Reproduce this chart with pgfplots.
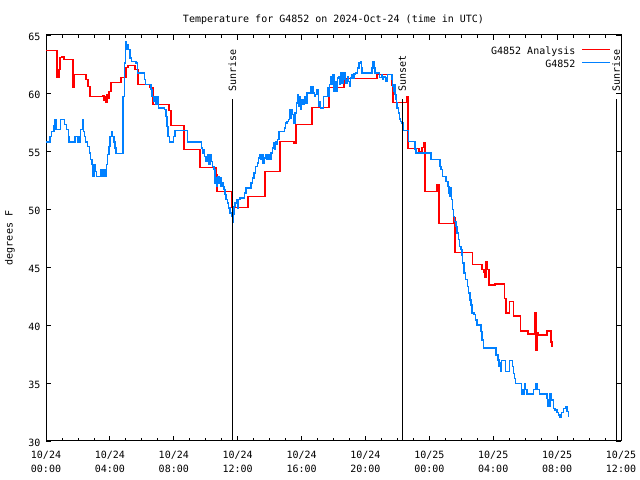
\documentclass[border=0pt]{standalone}
\usepackage{fontspec}
\setmainfont{DejaVu Sans Mono}
\usepackage{pgfplots}
\pgfplotsset{compat=1.18}
\definecolor{gred}{RGB}{255,0,0}
\definecolor{gblue}{RGB}{0,128,255}
\begin{document}
\fontsize{10bp}{12bp}\selectfont
\begin{tikzpicture}[x=1bp,y=1bp]
\useasboundingbox (0,0) rectangle (640,480);
\begin{axis}[
  at={(46bp,39bp)}, anchor=south west,
  scale only axis, width=575bp, height=406bp,
  xmin=0, xmax=36, ymin=30, ymax=65,
  xtick={0,4,...,36}, minor x tick num=3,
  xticklabels={10/24\\00:00,10/24\\04:00,10/24\\08:00,10/24\\12:00,10/24\\16:00,10/24\\20:00,10/25\\00:00,10/25\\04:00,10/25\\08:00,10/25\\12:00},
  xticklabel style={align=center, font=\fontsize{10bp}{14bp}\selectfont, yshift=-7bp},
  ytick={30,35,...,65},
  yticklabel style={font=\fontsize{10bp}{12bp}\selectfont, xshift=-2bp, yshift=-1.5bp},
  /pgf/number format/assume math mode=true,
  tick align=inside,
  major tick length=5bp, minor tick length=3bp,
  axis line style={line width=1bp, black},
  tick style={line width=0.8bp, black},
  title={Temperature for G4852 on 2024-Oct-24 (time in UTC)},
  title style={at={(0.5,1)}, anchor=base, yshift=7bp, inner sep=0pt, font=\fontsize{10bp}{12bp}\selectfont},
  ylabel={degrees F},
  every axis y label/.style={at={(axis description cs:0,0.5)}, xshift=-36bp, rotate=90, anchor=center, font=\fontsize{10bp}{12bp}\selectfont},
  legend plot pos=right,
  legend cell align=right,
  legend style={draw=none, fill=none, at={(axis description cs:1,1)}, anchor=north east, xshift=-10bp, yshift=-12bp,
    inner sep=0pt, row sep=3bp, column sep=6bp,
    nodes={inner sep=0pt, text height=7.5bp, text depth=2.5bp, font=\fontsize{10bp}{12bp}\selectfont}},
  legend image code/.code={\draw[#1] (0bp,2.5bp) -- (28bp,2.5bp);},
]
\addplot[gred, line width=1.4bp, const plot] coordinates {
(0,63.66) (0.69,61.33) (0.81,62.02) (0.88,63.06) (1.00,63.14) (1.13,62.88) (1.69,60.47) (1.75,61.59) (2.50,61.16) (2.63,60.55) (2.76,59.69) (3.57,59.78) (3.63,59.35) (3.69,59.69) (3.76,59.17) (3.82,59.86) (3.88,59.52) (3.95,60.12) (4.07,60.90) (4.70,61.33) (5.01,62.19) (5.13,62.37) (5.57,62.02) (5.76,60.73) (6.51,60.47) (6.70,59.00) (7.70,58.48) (7.83,57.19) (8.64,55.12) (9.64,53.56) (10.65,52.96) (10.71,51.49) (11.65,50.11) (12.65,51.06) (13.71,53.22) (14.65,55.81) (15.53,55.63) (15.66,57.27) (16.66,58.74) (17.72,60.47) (18.66,61.24) (20.73,61.59) (21.67,60.64) (21.73,59.17) (22.61,59.69) (22.67,55.20) (23.36,54.94) (23.54,55.29) (23.67,55.72) (23.73,51.49) (24.48,52.10) (24.61,48.73) (25.55,49.25) (25.61,46.23) (26.71,45.19) (27.30,44.76) (27.43,44.50) (27.49,44.15) (27.55,45.45) (27.65,44.76) (27.74,43.46) (28.12,43.55) (28.71,42.26) (28.81,41.05) (29.00,42.00) (29.28,40.79) (29.71,39.49) (30.18,39.24) (30.59,40.44) (30.62,41.05) (30.68,37.85) (30.74,39.32) (30.84,39.15) (31.37,39.49) (31.62,38.54) (31.69,38.20) (31.72,38.20)
};
\addlegendentry{G4852 Analysis}
\addplot[gblue, line width=1.4bp, const plot] coordinates {
(0,55.78) (0.25,56.26) (0.36,56.70) (0.50,57.19) (0.56,57.71) (0.63,56.84) (0.92,57.71) (1.15,57.27) (1.30,56.84) (1.40,56.26) (1.44,55.78) (1.82,56.26) (1.96,55.78) (2.02,56.26) (2.09,55.78) (2.17,56.84) (2.27,57.71) (2.34,56.70) (2.42,56.26) (2.49,55.78) (2.59,55.40) (2.71,54.83) (2.80,54.25) (2.88,53.82) (2.92,52.81) (3.01,53.82) (3.09,53.24) (3.17,52.81) (3.44,53.39) (3.51,52.81) (3.63,53.39) (3.69,52.81) (3.80,53.82) (3.86,54.68) (3.95,55.40) (4.01,56.26) (4.11,56.70) (4.18,56.26) (4.26,55.78) (4.32,55.26) (4.38,54.77) (4.82,59.72) (4.93,62.60) (4.97,64.33) (5.01,64.46) (5.05,63.75) (5.13,64.18) (5.18,63.75) (5.26,63.03) (5.37,62.74) (5.64,62.60) (5.72,61.74) (6.16,61.16) (6.22,60.73) (6.58,60.29) (6.64,59.72) (6.76,59.29) (6.83,59.72) (6.89,59.00) (6.97,59.72) (7.06,58.71) (7.43,58.57) (7.51,57.99) (7.58,57.13) (7.64,56.26) (7.72,55.78) (7.97,56.26) (8.08,56.76) (8.85,55.78) (9.73,55.26) (9.81,54.77) (9.85,55.12) (9.94,54.54) (10.02,54.11) (10.10,54.68) (10.19,53.82) (10.27,54.68) (10.35,54.11) (10.44,53.67) (10.52,53.39) (10.58,52.24) (10.65,52.67) (10.69,51.95) (10.75,52.81) (10.83,52.24) (10.90,52.67) (10.96,51.95) (11.02,52.29) (11.08,51.95) (11.15,51.66) (11.21,51.23) (11.27,50.80) (11.35,50.52) (11.44,50.08) (11.52,49.65) (11.63,49.36) (11.69,48.88) (11.73,49.51) (11.77,50.22) (11.84,50.52) (11.94,50.80) (12.02,50.08) (12.07,50.80) (12.15,50.95) (12.42,51.38) (12.51,51.81) (12.84,52.24) (12.92,52.67) (13.03,53.11) (13.13,53.67) (13.23,53.97) (13.30,54.40) (13.36,54.68) (13.42,54.25) (13.51,54.68) (13.59,53.97) (13.67,54.40) (13.76,54.68) (13.84,54.25) (13.92,54.68) (14.01,54.25) (14.09,54.83) (14.17,55.26) (14.23,55.69) (14.30,55.12) (14.38,55.83) (14.45,55.55) (14.51,55.98) (14.59,56.70) (14.92,56.99) (15.01,57.42) (15.09,57.56) (15.17,57.71) (15.23,58.57) (15.30,57.85) (15.36,58.57) (15.42,58.14) (15.51,57.42) (15.59,58.28) (15.67,59.15) (15.74,59.86) (15.80,58.85) (15.89,59.72) (15.95,58.57) (16.01,59.43) (16.09,59.00) (16.17,59.72) (16.26,59.15) (16.34,60.01) (16.59,60.58) (16.72,60.01) (16.80,59.72) (16.89,59.86) (16.97,60.29) (17.05,58.85) (17.11,59.29) (17.20,58.71) (17.37,59.72) (17.62,60.44) (17.68,59.72) (17.74,60.73) (17.83,61.44) (17.89,60.73) (17.95,61.59) (18.03,60.15) (18.10,61.01) (18.16,60.15) (18.24,61.30) (18.30,61.44) (18.37,60.73) (18.41,61.30) (18.47,61.74) (18.54,60.87) (18.62,61.30) (18.66,61.74) (18.72,61.16) (18.79,60.87) (18.87,61.44) (18.93,61.01) (18.99,60.58) (19.08,61.30) (19.14,61.59) (19.21,61.24) (19.29,61.65) (19.37,61.74) (19.52,62.17) (19.60,62.60) (19.68,62.69) (19.75,62.17) (19.79,61.74) (20.40,62.17) (20.48,62.69) (20.54,62.17) (20.60,61.74) (20.87,61.36) (21.02,61.59) (21.08,61.16) (21.12,61.44) (21.23,61.36) (21.29,61.01) (21.37,61.59) (21.65,61.16) (21.69,60.58) (21.75,60.15) (21.79,60.73) (21.84,59.86) (21.92,59.43) (21.96,59.15) (21.98,58.71) (22.06,58.28) (22.12,57.77) (22.21,57.56) (22.27,57.42) (22.34,56.78) (22.69,55.83) (23.11,55.18) (23.17,54.83) (24.11,54.25) (24.67,53.67) (24.73,53.39) (24.82,52.81) (25.05,52.38) (25.16,51.95) (25.24,51.38) (25.30,51.09) (25.34,51.81) (25.38,50.80) (25.44,49.94) (25.51,49.36) (25.57,48.93) (25.66,48.50) (25.72,47.93) (25.82,47.35) (25.88,46.77) (25.97,46.49) (26.05,46.05) (26.09,45.34) (26.17,44.47) (26.26,43.90) (26.38,43.32) (26.45,42.75) (26.55,42.17) (26.62,41.74) (26.68,41.02) (26.80,40.88) (26.89,40.44) (26.98,40.01) (27.24,39.43) (27.30,38.72) (27.38,38.00) (28.18,37.42) (28.29,36.99) (28.35,36.41) (28.39,36.71) (28.45,35.98) (28.51,36.93) (28.76,35.98) (29.01,36.93) (29.20,36.41) (29.26,35.84) (29.33,35.41) (29.39,34.98) (29.77,34.06) (29.83,34.46) (29.90,34.06) (29.96,34.98) (30.02,34.46) (30.11,34.06) (30.52,34.46) (30.67,34.98) (30.77,34.46) (30.90,34.06) (31.36,33.69) (31.40,32.96) (31.46,33.54) (31.50,32.96) (31.56,34.06) (31.62,33.54) (31.77,32.82) (31.87,32.68) (31.98,32.44) (32.08,32.24) (32.19,32.05) (32.29,32.44) (32.40,32.82) (32.51,32.96) (32.61,32.53) (32.71,32.10) (32.74,32.10)
};
\addlegendentry{G4852}
\addplot[black, line width=1bp, forget plot] coordinates {(11.67,30) (11.67,59.52)};
\addplot[black, line width=1bp, forget plot] coordinates {(22.31,30) (22.31,59.52)};
\addplot[black, line width=1bp, forget plot] coordinates {(35.69,30) (35.69,59.52)};
\node[rotate=90, anchor=west, inner sep=0pt] at (axis cs:11.67,60.1) {Sunrise};
\node[rotate=90, anchor=west, inner sep=0pt] at (axis cs:22.31,60.1) {Sunset};
\node[rotate=90, anchor=west, inner sep=0pt] at (axis cs:35.69,60.1) {Sunrise};
\end{axis}
\end{tikzpicture}
\end{document}
